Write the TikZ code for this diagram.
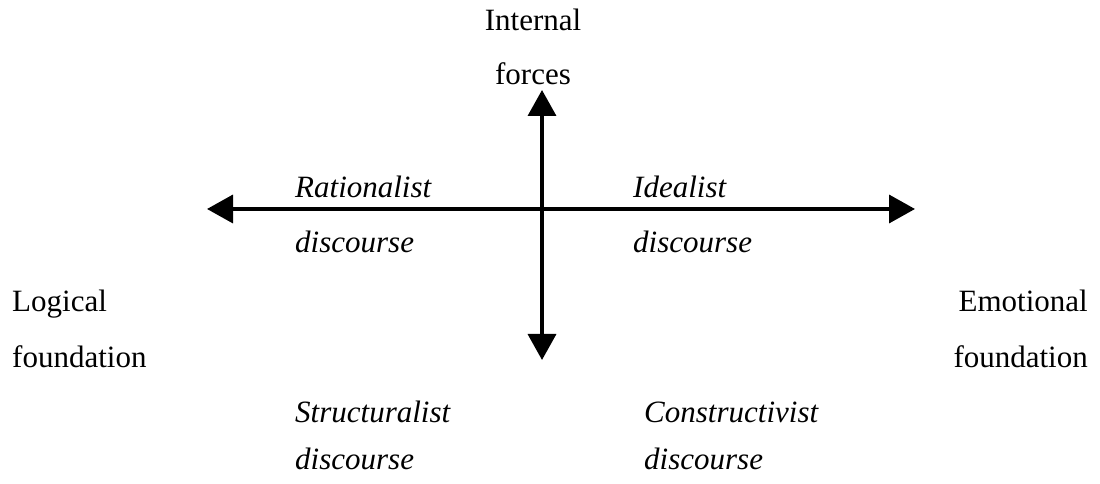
\documentclass[tikz,border=0pt]{standalone}
\usepackage{fontspec}
\setmainfont{Liberation Serif}
\usetikzlibrary{arrows.meta}
\begin{document}
\begin{tikzpicture}[x=1pt,y=1pt,
  lbl/.style={inner sep=0pt,font=\fontsize{31}{37}\selectfont},
  ilbl/.style={inner sep=0pt,font=\fontsize{31}{37}\selectfont\itshape},
  axis/.style={line width=3.6pt,{Triangle[length=26pt,width=28pt]}-{Triangle[length=26pt,width=28pt]}}]
\useasboundingbox (0,0) rectangle (1100,484);
% axes
\coordinate (L) at (207,275);
\coordinate (R) at (915,275);
\coordinate (T) at (542,394);
\coordinate (B) at (542,124);
\draw[axis] (L) -- (R);
\draw[axis] (B) -- (T);
% top labels
\node[lbl,anchor=base] (int) at (533,453) {Internal};
\node[lbl,anchor=base] (frc) at (533,399) {forces};
% side labels
\node[lbl,anchor=base west] (log) at (12,172) {Logical};
\node[lbl,anchor=base west] (lfd) at (12,116) {foundation};
\node[lbl,anchor=base east] (emo) at (1088,172) {Emotional};
\node[lbl,anchor=base east] (efd) at (1088,116) {foundation};
% quadrant labels
\node[ilbl,anchor=base west] (rat) at (295,286) {Rationalist};
\node[ilbl,anchor=base west] (ratd) at (295,231) {discourse};
\node[ilbl,anchor=base west] (ide) at (633,286) {Idealist};
\node[ilbl,anchor=base west] (ided) at (633,231) {discourse};
\node[ilbl,anchor=base west] (str) at (295,61) {Structuralist};
\node[ilbl,anchor=base west] (strd) at (295,14) {discourse};
\node[ilbl,anchor=base west] (con) at (644,61) {Constructivist};
\node[ilbl,anchor=base west] (cond) at (644,14) {discourse};
\end{tikzpicture}
\end{document}
